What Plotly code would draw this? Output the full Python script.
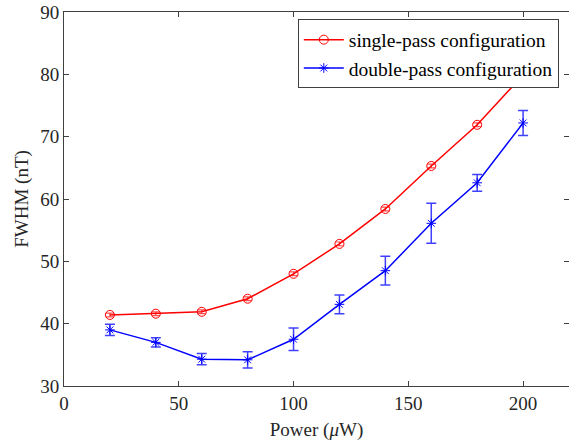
import plotly.graph_objects as go

power = [20, 40, 60, 80, 100, 120, 140, 160, 180, 200]
single_fwhm = [41.4, 41.6, 41.9, 44.0, 48.0, 52.8, 58.4, 65.3, 71.9, 79.9]
single_err = [0.3, 0.3, 0.3, 0.3, 0.3, 0.3, 0.3, 0.3, 0.3, 0.3]
double_fwhm = [39.0, 37.0, 34.3, 34.2, 37.5, 43.1, 48.5, 56.1, 62.6, 72.2]
double_err = [0.9, 0.75, 0.9, 1.3, 1.8, 1.5, 2.3, 3.2, 1.35, 2.0]
names = ["single-pass configuration", "double-pass configuration"]

font = "Liberation Serif"

def serif(t):
    return "<span style=\"font-family:'Liberation Serif',serif\">" + t + "</span>"

fig = go.Figure()
fig.add_trace(go.Scatter(
    x=power, y=single_fwhm, mode="lines+markers",
    name=serif(names[0]),
    line=dict(color="#ff0000", width=1.5),
    marker=dict(symbol="circle-open", size=9, color="#ff0000", line=dict(width=1)),
    error_y=dict(type="data", array=single_err, color="rgba(255,0,0,0.7)", thickness=1.2, width=4),
))
fig.add_trace(go.Scatter(
    x=power, y=double_fwhm, mode="lines+markers",
    name=serif(names[1]),
    line=dict(color="#0000ff", width=1.5),
    marker=dict(symbol="asterisk-open", size=8, color="#0000ff", line=dict(width=1, color="#0000ff")),
    error_y=dict(type="data", array=double_err, color="rgba(0,0,255,0.75)", thickness=1.5, width=5),
))

axis_common = dict(
    showgrid=False, zeroline=False, showline=True, linecolor="#404040", linewidth=1,
    mirror="ticks", ticks="inside", ticklen=5, tickcolor="#404040", automargin=False,
    tickfont=dict(family=font, size=19, color="#262626"),
)
fig.update_xaxes(range=[0, 220], tickvals=[0, 50, 100, 150, 200],
                 title=dict(text="Power (<i>μ</i>W)", font=dict(family=font, size=19, color="#262626"), standoff=9),
                 **axis_common)
fig.update_yaxes(range=[30, 90], tickvals=[30, 40, 50, 60, 70, 80, 90],
                 title=dict(text="FWHM (nT)", font=dict(family=font, size=19, color="#262626"), standoff=6),
                 **axis_common)

fig.update_layout(
    width=569, height=444,
    margin=dict(l=64, r=0, t=12, b=58),
    plot_bgcolor="white", paper_bgcolor="white",
    font=dict(family=font, size=19, color="#262626"),
    legend=dict(x=0.463, y=0.98, xanchor="left", yanchor="top",
                bordercolor="#404040", borderwidth=1, bgcolor="white",
                font=dict(family=font, size=19.5, color="#000000"),
                tracegroupgap=0, itemwidth=40),
    showlegend=True,
)

fig.write_html("out.html", config={"displayModeBar": False},
               post_script="document.body.style.margin='0';document.body.style.overflow='hidden';")
